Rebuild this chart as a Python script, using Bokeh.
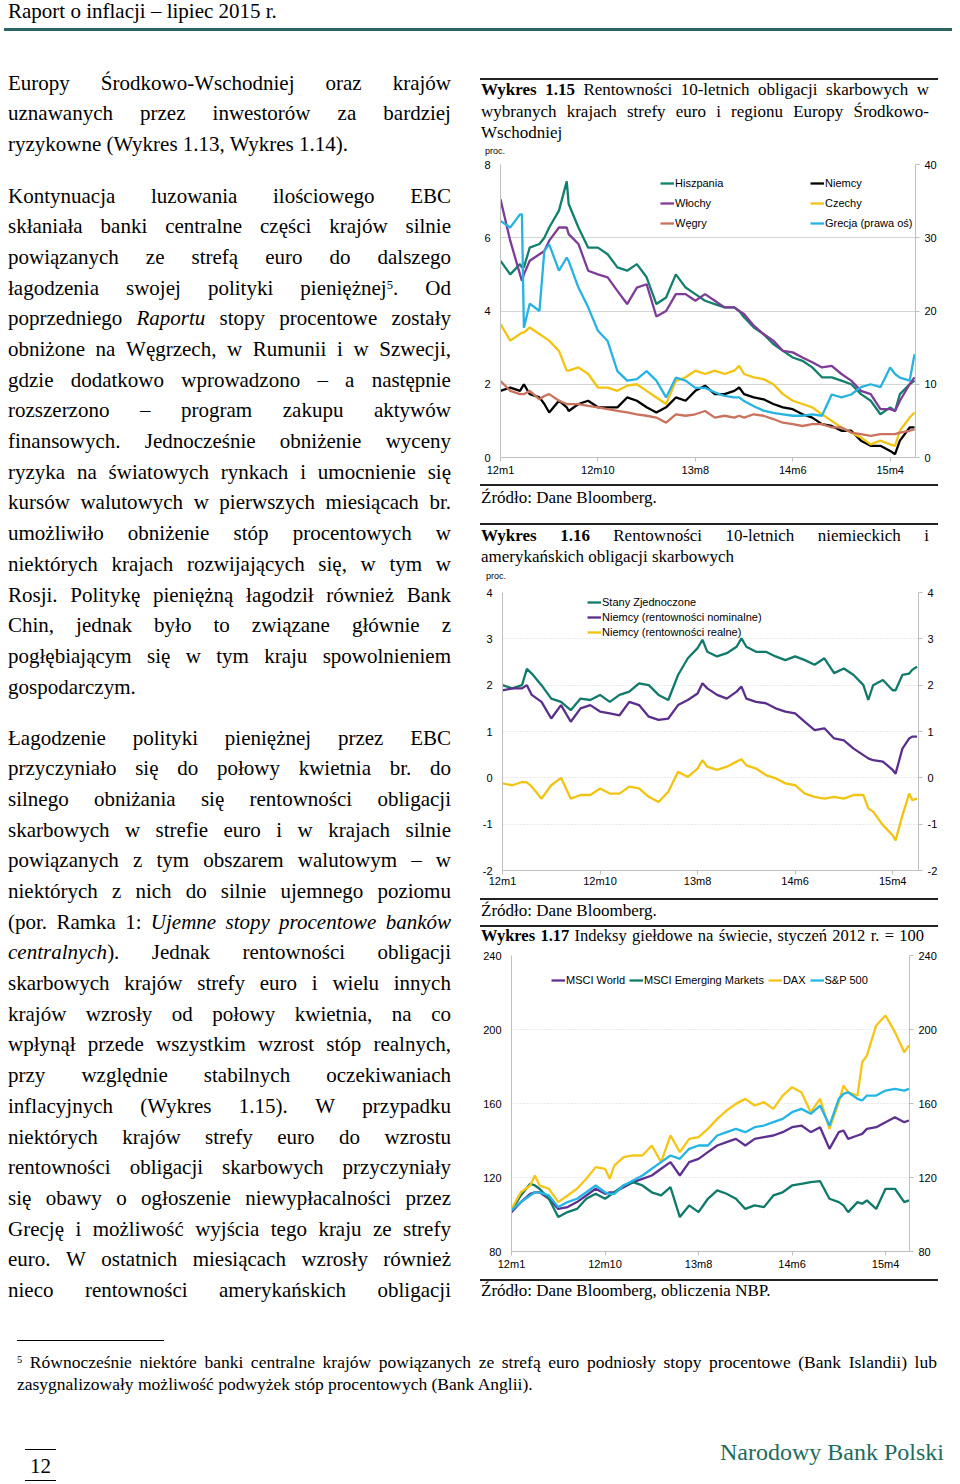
from bokeh.plotting import figure
from bokeh.models import Range1d, LinearAxis, FixedTicker, Legend, LegendItem, Div
from bokeh.layouts import column, row
from bokeh.embed import file_html
from bokeh.resources import INLINE

# ---------------- data ----------------
X_TICKS = [0, 10, 20, 30, 40]
X_LABELS = ["12m1", "12m10", "13m8", "14m6", "15m4"]

# Wykres 1.15
T15 = [0, 1, 2, 2.2, 2.4, 3, 4, 4.5, 5, 6, 6.8, 7, 8, 9, 10, 11, 12, 13, 14, 15, 16, 17, 18, 19, 20,
       21, 22, 23, 24, 24.5, 25, 26, 27, 28, 29, 30, 31, 32, 33, 34, 35, 36, 37, 38, 39, 40, 40.5, 41, 42, 42.5]
HISZPANIA = [5.37, 5.0, 5.28, 5.19, 5.19, 5.73, 5.83, 6.0, 6.28, 6.74, 7.54, 6.92,
             6.28, 5.73, 5.73, 5.55, 5.19, 5.1, 5.28, 4.92, 4.19, 4.37, 5.0, 4.64, 4.46, 4.28, 4.19, 4.1, 4.1,
             4.0,
             3.83, 3.55, 3.37, 3.1, 2.91, 2.73, 2.64, 2.46, 2.19, 2.19, 2.1, 2.0, 1.73, 1.55, 1.18, 1.37,
             1.27, 1.73, 2.0, 2.1]
WLOCHY = [7.05, 5.92, 5.0, 4.82, 5.0, 5.37, 5.55, 5.64, 5.92, 6.28, 6.28, 6.1,
          5.83, 5.1, 5.0, 4.92, 4.55, 4.19, 4.64, 4.73, 3.85, 4.0, 4.46, 4.46, 4.28, 4.46, 4.28, 4.1, 4.1,
          4.0,
          3.92, 3.6, 3.37, 3.19, 2.91, 2.87, 2.73, 2.6, 2.46, 2.5, 2.28, 2.1, 1.82, 1.73, 1.32, 1.32,
          1.27, 1.55, 2.0, 2.19]
WEGRY = [2.09, 1.82, 1.73, 1.73, 1.73, 1.82, 1.59, 1.68, 1.73, 1.55, 1.46, 1.46,
         1.46, 1.41, 1.37, 1.32, 1.27, 1.23, 1.18, 1.14, 1.09, 0.95, 1.18, 1.14, 1.18, 1.27, 1.09, 1.14, 1.09,
         1.14,
         1.09, 1.18, 1.14, 1.05, 0.95, 0.91, 0.86, 0.91, 0.91, 0.82, 0.82, 0.68, 0.64, 0.59, 0.64, 0.64,
         0.64, 0.68, 0.73, 0.77]
NIEMCY = [1.82, 1.91, 1.82, 1.91, 2.0, 1.73, 1.64, 1.46, 1.23, 1.55, 1.37, 1.27,
          1.46, 1.55, 1.37, 1.37, 1.37, 1.64, 1.55, 1.37, 1.23, 1.37, 1.64, 1.55, 1.82, 1.96, 1.73, 1.73, 1.82,
          1.91,
          1.73, 1.64, 1.59, 1.46, 1.37, 1.32, 1.18, 1.09, 0.91, 0.86, 0.73, 0.73, 0.46, 0.32, 0.32, 0.18,
          0.09, 0.46, 0.82, 0.82]
CZECHY = [3.64, 3.19, 3.37, 3.41, 3.41, 3.55, 3.37, 3.28, 3.19, 2.91, 2.37, 2.37,
          2.46, 2.28, 1.91, 1.91, 1.82, 1.96, 2.0, 1.82, 1.64, 1.46, 2.09, 2.19, 2.37, 2.28, 2.37, 2.28, 2.37,
          2.5,
          2.28, 2.19, 2.14, 2.0, 1.73, 1.55, 1.46, 1.37, 1.18, 1.0, 0.82, 0.68, 0.55, 0.36, 0.46, 0.36,
          0.32, 0.73, 1.09, 1.23]
GRECJA = [32.3, 31.4, 33.2, 33.2, 17.7, 21.0, 20.0, 28.2, 29.1, 25.5, 27.3, 26.8,
          23.2, 20.5, 17.3, 15.9, 11.8, 10.5, 10.7, 11.8, 10.5, 8.2, 10.9, 10.5, 9.5, 9.5, 8.9, 8.4, 8.2,
          8.2,
          7.7, 7.0, 6.4, 6.1, 5.9, 5.7, 5.7, 5.9, 5.7, 8.6, 8.2, 8.6, 9.6, 10.0, 9.6, 12.3,
          11.4, 10.9, 10.5, 14.1]

# Wykres 1.16
T16 = [0, 1, 2, 2.5, 3, 4, 5, 6, 7, 8, 9, 10, 11, 12, 13, 14, 15, 16, 17, 18, 19, 20, 20.5,
       21, 22, 23, 24, 24.5, 25, 26, 27, 28, 29, 30, 31, 32, 33, 34, 35, 36, 37, 37.5,
       38, 39, 40, 40.3, 41, 41.7, 42, 42.5]
USA = [2.0, 1.93, 2.0, 2.35,
       2.25, 2.0, 1.71, 1.64, 1.46, 1.71, 1.68, 1.79, 1.64, 1.79, 1.86, 2.04, 2.0, 1.79, 1.68, 2.22, 2.58, 2.8,
       2.98, 2.72, 2.62, 2.69, 2.83, 3.01,
       2.83, 2.72, 2.72, 2.62, 2.54, 2.62, 2.54, 2.44, 2.58, 2.26, 2.36, 2.22, 2.0,
       1.68, 2.0, 2.11, 1.89, 1.89, 2.22, 2.25, 2.33, 2.4]
DE_NOMINAL = [1.89, 1.93, 1.93, 2.0,
              1.79, 1.64, 1.28, 1.57, 1.21, 1.5, 1.57, 1.43, 1.39, 1.35, 1.64, 1.57, 1.32, 1.25, 1.28, 1.57, 1.68, 1.82,
              2.04, 1.93, 1.79, 1.71, 1.86, 1.97,
              1.71, 1.64, 1.61, 1.5, 1.43, 1.39, 1.21, 1.03, 1.07, 0.85, 0.81, 0.63, 0.49,
              0.42, 0.38, 0.35, 0.17, 0.09, 0.63, 0.85, 0.89, 0.89]
DE_REAL = [-0.12, -0.16, -0.09, -0.1,
           -0.19, -0.45, -0.16, 0.0, -0.45, -0.37, -0.37, -0.23, -0.34, -0.34, -0.19, -0.23, -0.41, -0.52, -0.3, 0.13, 0.02, 0.2,
           0.38, 0.24, 0.17, 0.24, 0.35, 0.4,
           0.27, 0.2, 0.06, -0.01, -0.12, -0.16, -0.34, -0.41, -0.45, -0.41, -0.45, -0.37, -0.37,
           -0.66, -0.73, -1.02, -1.24, -1.35, -0.81, -0.34, -0.48, -0.45]

# Wykres 1.17
T17 = [0, 1, 2, 2.5, 3, 4, 5, 6, 7, 8, 9, 10, 10.5, 11, 12, 13, 14, 15, 16, 17, 18, 19, 20, 21, 22, 23, 24,
       25, 26, 27, 28, 29, 30, 31, 32, 33, 34, 35, 35.5, 36, 37, 37.5, 38, 39, 40, 41, 42, 42.5]
MSCI_WORLD = [101.3, 106.7, 111.2, 112.0,
              112.0, 108.5, 103.0, 104.0, 106.7, 110.3, 113.9, 111.2, 112.0,
              112.0, 114.8, 117.5, 119.3, 121.1, 124.7, 128.3, 121.1, 128.3, 130.1, 133.7, 137.3, 139.1, 140.9,
              137.3, 140.9, 141.8, 142.7, 144.5, 147.2, 148.1, 144.5, 147.2, 135.5, 144.5,
              145.4, 140.9, 142.7, 143.6, 146.3, 147.2, 149.9, 152.6, 149.9, 150.8]
MSCI_EM = [102.2, 110.3, 116.6, 115.7,
           113.9, 108.5, 98.6, 101.3, 103.0, 108.5, 111.2, 108.5, 110.3,
           112.0, 115.7, 117.5, 115.7, 112.0, 110.3, 114.8, 98.6, 104.9, 101.3, 108.5, 113.0, 111.2, 108.5,
           103.0, 104.9, 104.0, 110.3, 112.0, 115.7, 116.6, 117.5, 118.0, 108.5, 106.7,
           104.9, 101.3, 106.7, 105.8, 107.6, 103.0, 113.9, 113.9, 106.7, 107.6]
DAX = [103.0, 112.0, 115.7, 121.1,
       115.7, 113.9, 106.7, 110.3, 113.9, 119.3, 125.6, 124.7, 119.3,
       126.5, 131.0, 131.9, 131.9, 137.3, 128.3, 142.7, 133.7, 140.9, 141.8, 146.3, 151.7, 156.2, 159.8,
       162.5, 158.9, 160.7, 157.1, 164.3, 168.8, 166.1, 155.3, 162.5, 146.3, 160.7,
       169.7, 166.1, 164.3, 182.3, 185.9, 202.2, 207.6, 198.6, 187.7, 191.4]
SP500 = [102.2, 106.7, 110.3, 112.0,
         112.0, 110.3, 104.0, 106.7, 108.5, 112.0, 115.7, 112.0, 111.2,
         111.2, 115.7, 118.4, 121.1, 124.7, 128.3, 131.9, 130.1, 135.5, 137.3, 137.3, 142.7, 144.5, 146.3,
         144.5, 147.2, 148.1, 149.9, 151.7, 155.3, 157.1, 154.4, 158.9, 148.1, 162.5,
         165.2, 166.1, 162.5, 161.6, 164.3, 164.3, 167.0, 167.9, 167.0, 167.9]

# ---------------- styles ----------------
SERIF = "'Liberation Serif', 'Times New Roman', serif"
SANS = "'Liberation Sans', Arial, sans-serif"
AX_GRAY = "#BFBFBF"


def style_axis(ax, standoff, tick_out):
    ax.axis_line_color = AX_GRAY
    ax.major_tick_line_color = AX_GRAY
    ax.major_tick_out = tick_out
    ax.major_tick_in = 0
    ax.minor_tick_line_color = None
    ax.major_label_standoff = standoff
    ax.major_label_text_font = "Liberation Sans"
    ax.major_label_text_font_size = "11px"
    ax.major_label_text_color = "#000000"


def ylabels(ticks):
    return {t: str(t) for t in ticks}


def make_chart(width, height, bl, br, bt, bb, xmax, yr, yticks, ryr, rticks, dash, xstand):
    p = figure(width=width, height=height, output_backend="svg", toolbar_location=None,
               x_range=Range1d(0, xmax), y_range=Range1d(*yr),
               min_border_left=bl, min_border_right=br, min_border_top=bt, min_border_bottom=bb,
               outline_line_color=None, background_fill_color="white", border_fill_color="white")
    p.extra_y_ranges = {"right": Range1d(*ryr)}
    xa = p.xaxis[0]
    xa.ticker = FixedTicker(ticks=X_TICKS)
    xa.major_label_overrides = {t: l for t, l in zip(X_TICKS, X_LABELS)}
    style_axis(xa, xstand, 4)
    ya = p.yaxis[0]
    ya.ticker = FixedTicker(ticks=yticks)
    ya.major_label_overrides = ylabels(yticks)
    style_axis(ya, 10, 0)
    ra = LinearAxis(y_range_name="right", ticker=FixedTicker(ticks=rticks))
    ra.major_label_overrides = ylabels(rticks)
    style_axis(ra, 5, 4)
    p.add_layout(ra, "right")
    p.xgrid.visible = False
    p.ygrid.ticker = FixedTicker(ticks=yticks)
    p.ygrid.grid_line_color = "#D4D4D4"
    p.ygrid.grid_line_dash = dash
    return p


def make_legend(items, loc, spacing, orientation="vertical"):
    return Legend(items=[LegendItem(label=l, renderers=[r]) for l, r in items],
                  location=loc, orientation=orientation, padding=0, margin=0, spacing=spacing,
                  glyph_width=14, glyph_height=12, label_height=12, label_standoff=1,
                  label_text_font="Liberation Sans", label_text_font_size="11px",
                  label_text_color="#000000", border_line_color=None, background_fill_alpha=0)


LW = 2.3

# Wykres 1.15
p15 = make_chart(482, 322, 30, 37, 6, 23, 42.6, (0, 8), [0, 2, 4, 6, 8], (0, 40), [0, 10, 20, 30, 40], "solid", 2)
r_es = p15.line(T15, HISZPANIA, line_color="#13806D", line_width=LW)
r_de = p15.line(T15, NIEMCY, line_color="#000000", line_width=LW)
r_it = p15.line(T15, WLOCHY, line_color="#7E3C96", line_width=LW)
r_cz = p15.line(T15, CZECHY, line_color="#F2C311", line_width=LW)
r_hu = p15.line(T15, WEGRY, line_color="#C9735E", line_width=LW)
r_gr = p15.line(T15, GRECJA, line_color="#27B3E2", line_width=LW, y_range_name="right")
p15.add_layout(make_legend([("Hiszpania", r_es), ("Włochy", r_it), ("Węgry", r_hu)], (160, 228), 8))
p15.add_layout(make_legend([("Niemcy", r_de), ("Czechy", r_cz), ("Grecja (prawa oś)", r_gr)], (310, 228), 8))

# Wykres 1.16
p16 = make_chart(482, 305, 32, 34, 7, 20, 42.65, (-2, 4), [-2, -1, 0, 1, 2, 3, 4], (-2, 4), [-2, -1, 0, 1, 2, 3, 4], "1 2", 0)
r_us = p16.line(T16, USA, line_color="#117A6B", line_width=LW)
r_dn = p16.line(T16, DE_NOMINAL, line_color="#5A2F8C", line_width=LW)
r_dr = p16.line(T16, DE_REAL, line_color="#F2C311", line_width=LW)
p16.add_layout(make_legend([("Stany Zjednoczone", r_us), ("Niemcy (rentowności nominalne)", r_dn),
                            ("Niemcy (rentowności realne)", r_dr)], (85, 232), 3))

# Wykres 1.17
p17 = make_chart(482, 324, 41, 43, 7, 21, 42.56, (80, 240), [80, 120, 160, 200, 240], (80, 240), [80, 120, 160, 200, 240], "1 2", 2)
r_w = p17.line(T17, MSCI_WORLD, line_color="#5E3190", line_width=LW)
r_em = p17.line(T17, MSCI_EM, line_color="#0F7A69", line_width=LW)
r_dax = p17.line(T17, DAX, line_color="#F5C518", line_width=LW)
r_sp = p17.line(T17, SP500, line_color="#22B5E5", line_width=LW)
p17.add_layout(make_legend([("MSCI World", r_w), ("MSCI Emerging Markets", r_em), ("DAX", r_dax), ("S&P 500", r_sp)],
                           (40, 265), 4, orientation="horizontal"))

# ---------------- text helpers ----------------
STYLE = "<style>sup{font-size:0.6em;vertical-align:0.5em;line-height:0}</style>"


def tline(text, left, top, width, size, lh, font=SERIF, justify=False, color="#000000", right=None):
    base = (f"position:absolute;top:{top}px;height:{lh}px;line-height:{lh}px;font-family:{font};"
            f"font-size:{size}px;color:{color};white-space:nowrap;")
    pos = f"left:{left}px;" if right is None else f"right:{right}px;"
    if justify:
        inner = "".join(f"<span>{w}</span>" for w in text.split(" "))
        return f'<div style="{base}{pos}width:{width}px;display:flex;justify-content:space-between;">{inner}</div>'
    return f'<div style="{base}{pos}">{text}</div>'


def rule(left, top, width, h, color="#222222"):
    return f'<div style="position:absolute;left:{left}px;top:{top}px;width:{width}px;height:{h}px;background:{color};"></div>'


def box(parts, w, h):
    html = STYLE + f'<div style="position:relative;width:{w}px;height:{h}px;">' + "".join(parts) + "</div>"
    return Div(text=html, width=w, height=h, margin=0)


# ---------------- header ----------------
top_div = box([tline("Raport o inflacji – lipiec 2015 r.", 8, 0, 0, 21, 22),
               rule(4, 28, 948, 3, "#2C6662")], 952, 70)

# ---------------- left text column ----------------
P1 = [("Europy Środkowo-Wschodniej oraz krajów", True),
      ("uznawanych przez inwestorów za bardziej", True),
      ("ryzykowne (Wykres 1.13, Wykres 1.14).", False)]
P2 = [("Kontynuacja luzowania ilościowego EBC", True),
      ("skłaniała banki centralne części krajów silnie", True),
      ("powiązanych ze strefą euro do dalszego", True),
      ("łagodzenia swojej polityki pieniężnej<sup>5</sup>. Od", True),
      ("poprzedniego <i>Raportu</i> stopy procentowe zostały", True),
      ("obniżone na Węgrzech, w Rumunii i w Szwecji,", True),
      ("gdzie dodatkowo wprowadzono – a następnie", True),
      ("rozszerzono – program zakupu aktywów", True),
      ("finansowych. Jednocześnie obniżenie wyceny", True),
      ("ryzyka na światowych rynkach i umocnienie się", True),
      ("kursów walutowych w pierwszych miesiącach br.", True),
      ("umożliwiło obniżenie stóp procentowych w", True),
      ("niektórych krajach rozwijających się, w tym w", True),
      ("Rosji. Politykę pieniężną łagodził również Bank", True),
      ("Chin, jednak było to związane głównie z", True),
      ("pogłębiającym się w tym kraju spowolnieniem", True),
      ("gospodarczym.", False)]
P3 = [("Łagodzenie polityki pieniężnej przez EBC", True),
      ("przyczyniało się do połowy kwietnia br. do", True),
      ("silnego obniżania się rentowności obligacji", True),
      ("skarbowych w strefie euro i w krajach silnie", True),
      ("powiązanych z tym obszarem walutowym – w", True),
      ("niektórych z nich do silnie ujemnego poziomu", True),
      ("(por. Ramka 1: <i>Ujemne</i> <i>stopy</i> <i>procentowe</i> <i>banków</i>", True),
      ("<i>centralnych</i>). Jednak rentowności obligacji", True),
      ("skarbowych krajów strefy euro i wielu innych", True),
      ("krajów wzrosły od połowy kwietnia, na co", True),
      ("wpłynął przede wszystkim wzrost stóp realnych,", True),
      ("przy względnie stabilnych oczekiwaniach", True),
      ("inflacyjnych (Wykres 1.15). W przypadku", True),
      ("niektórych krajów strefy euro do wzrostu", True),
      ("rentowności obligacji skarbowych przyczyniały", True),
      ("się obawy o ogłoszenie niewypłacalności przez", True),
      ("Grecję i możliwość wyjścia tego kraju ze strefy", True),
      ("euro. W ostatnich miesiącach wzrosły również", True),
      ("nieco rentowności amerykańskich obligacji", True)]

PITCH = 30.69
left_parts = []
for start, para in ((83, P1), (196, P2), (738, P3)):
    for i, (txt, j) in enumerate(para):
        yc = start + i * PITCH
        left_parts.append(tline(txt, 8, round(yc - 70 - 15.5, 1), 443, 21, 30, justify=j))
left_div = box(left_parts, 470, 1240)

# ---------------- right column texts ----------------
TS = 17
div_a = box([rule(10, 8, 458, 2),
             tline("<b>Wykres</b> <b>1.15</b> Rentowności 10-letnich obligacji skarbowych w", 11, 9, 448, TS, 21.5, justify=True),
             tline("wybranych krajach strefy euro i regionu Europy Środkowo-", 11, 30.5, 448, TS, 21.5, justify=True),
             tline("Wschodniej", 11, 52, 0, TS, 21.5),
             tline("proc.", 15, 75, 0, 9, 12, font=SANS)], 482, 88)
div_b = box([rule(10, 4, 458, 2),
             tline("Źródło: Dane Bloomberg.", 11, 7, 0, TS, 21.5),
             rule(10, 43, 458, 2),
             tline("<b>Wykres</b> <b>1.16</b> Rentowności 10-letnich niemieckich i", 11, 45, 448, TS, 21.5, justify=True),
             tline("amerykańskich obligacji skarbowych", 11, 66, 0, TS, 21.5),
             tline("proc.", 16, 90, 0, 9, 12, font=SANS)], 482, 105)
div_c = box([rule(10, 8, 458, 2),
             tline("Źródło: Dane Bloomberg.", 11, 10, 0, TS, 21.5),
             rule(10, 35, 458, 2),
             tline("<b>Wykres</b> <b>1.17</b> Indeksy giełdowe na świecie, styczeń 2012 r. = 100", 11, 35, 443, 16.5, 21.5, justify=True)],
            482, 58)
div_d = box([rule(10, 7, 458, 2),
             tline("Źródło: Dane Bloomberg, obliczenia NBP.", 11, 8, 0, TS, 21.5)], 482, 38)

right_col = column(div_a, row(p15), div_b, row(p16), div_c, row(p17), div_d, spacing=0)

# ---------------- footer ----------------
bottom_div = box([rule(17, 30, 147, 1, "#000000"),
                  tline("<sup>5</sup> Równocześnie niektóre banki centralne krajów powiązanych ze strefą euro podniosły stopy procentowe (Bank Islandii) lub",
                        17, 41, 920, 17.5, 22, justify=True),
                  tline("zasygnalizowały możliwość podwyżek stóp procentowych (Bank Anglii).", 17, 63, 0, 17.5, 22),
                  rule(25, 139, 31, 1, "#000000"),
                  tline("12", 30, 144, 0, 21, 24),
                  rule(25, 170, 31, 1, "#000000"),
                  tline("Narodowy Bank Polski", 0, 128, 0, 24, 28, color="#1E6B5E", right=8)], 952, 174)

page = column(top_div, row(left_div, right_col, spacing=0), bottom_div, spacing=0)

open("out.html", "w").write(file_html(page, INLINE, title="Raport o inflacji – lipiec 2015 r."))
